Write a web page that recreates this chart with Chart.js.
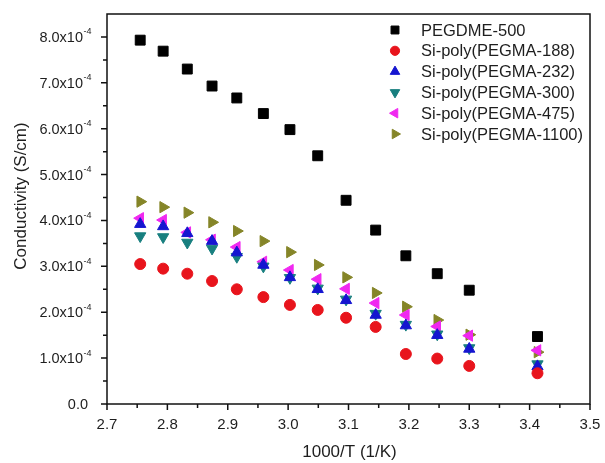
<!DOCTYPE html>
<html><head><meta charset="utf-8">
<script src="https://cdn.jsdelivr.net/npm/chart.js"></script>
<style>html,body{margin:0;padding:0;background:#fff}canvas{display:block}</style>
</head><body>
<canvas id="c" width="605" height="463"></canvas>
<script>
// 1000/T (1/K)
const invT = [2.755, 2.793, 2.833, 2.874, 2.915, 2.959, 3.003, 3.049, 3.096, 3.145, 3.195, 3.247, 3.300, 3.413];

const seriesNames = ['PEGDME-500', 'Si-poly(PEGMA-188)', 'Si-poly(PEGMA-232)', 'Si-poly(PEGMA-300)', 'Si-poly(PEGMA-475)', 'Si-poly(PEGMA-1100)'];

// Conductivity (S/cm)
const pegdme500 = [7.93e-4, 7.69e-4, 7.30e-4, 6.93e-4, 6.67e-4, 6.33e-4, 5.98e-4, 5.41e-4, 4.44e-4, 3.79e-4, 3.23e-4, 2.84e-4, 2.48e-4, 1.47e-4];
const pegma188  = [3.05e-4, 2.95e-4, 2.84e-4, 2.68e-4, 2.50e-4, 2.33e-4, 2.16e-4, 2.05e-4, 1.88e-4, 1.68e-4, 1.09e-4, 0.99e-4, 0.83e-4, 0.67e-4];
const pegma232  = [3.92e-4, 3.87e-4, 3.72e-4, 3.55e-4, 3.30e-4, 3.03e-4, 2.76e-4, 2.50e-4, 2.26e-4, 1.94e-4, 1.71e-4, 1.50e-4, 1.20e-4, 0.82e-4];
const pegma300  = [3.66e-4, 3.64e-4, 3.52e-4, 3.39e-4, 3.21e-4, 3.00e-4, 2.75e-4, 2.52e-4, 2.28e-4, 1.97e-4, 1.73e-4, 1.52e-4, 1.22e-4, 0.87e-4];
const pegma475  = [4.05e-4, 4.01e-4, 3.74e-4, 3.58e-4, 3.42e-4, 3.10e-4, 2.92e-4, 2.72e-4, 2.51e-4, 2.20e-4, 1.94e-4, 1.69e-4, 1.49e-4, 1.17e-4];
const pegma1100 = [4.41e-4, 4.29e-4, 4.17e-4, 3.96e-4, 3.77e-4, 3.55e-4, 3.31e-4, 3.03e-4, 2.76e-4, 2.42e-4, 2.12e-4, 1.83e-4, 1.51e-4, 1.13e-4];

// Tick labels
const xTickValues = [2.7, 2.8, 2.9, 3.0, 3.1, 3.2, 3.3, 3.4, 3.5];
const yTickValues = [0, 1e-4, 2e-4, 3e-4, 4e-4, 5e-4, 6e-4, 7e-4, 8e-4];
const yTickMantissa = ['0.0', '1.0x10', '2.0x10', '3.0x10', '4.0x10', '5.0x10', '6.0x10', '7.0x10', '8.0x10'];
const yTickExponent = ['', '-4', '-4', '-4', '-4', '-4', '-4', '-4', '-4'];

const allSeries = [pegdme500, pegma188, pegma232, pegma300, pegma475, pegma1100];
const styles = [
  {color: '#000000', pointStyle: 'rect', rotation: 0, radius: 7, lr: 5.6},
  {color: '#e8141c', pointStyle: 'circle', rotation: 0, radius: 5.5, lr: 4.6},
  {color: '#1515d0', pointStyle: 'triangle', rotation: 0, radius: 6.5, lr: 5.5},
  {color: '#187f7f', pointStyle: 'triangle', rotation: 180, radius: 6.5, lr: 5.5},
  {color: '#f028f0', pointStyle: 'triangle', rotation: 270, radius: 6.5, lr: 5.5},
  {color: '#858528', pointStyle: 'triangle', rotation: 90, radius: 6.5, lr: 5.5}
];

const datasets = allSeries.map((vals, i) => ({
  label: seriesNames[i],
  data: vals.map((v, j) => ({x: invT[j], y: v})),
  pointStyle: styles[i].pointStyle,
  rotation: styles[i].rotation,
  pointRadius: styles[i].radius,
  pointHoverRadius: styles[i].radius,
  backgroundColor: styles[i].color,
  borderColor: styles[i].color,
  borderWidth: 1,
  showLine: false
}));

const FONT = '"Liberation Sans", Arial, sans-serif';
const TXT = '#1e1e1e';

function drawMarker(ctx, st, x, y, r) {
  ctx.save();
  ctx.fillStyle = st.color; ctx.strokeStyle = st.color; ctx.lineWidth = 1;
  ctx.beginPath();
  if (st.pointStyle === 'rect') {
    const s = Math.SQRT1_2 * r;
    ctx.rect(x - s, y - s, 2 * s, 2 * s);
  } else if (st.pointStyle === 'circle') {
    ctx.arc(x, y, r, 0, Math.PI * 2);
  } else {
    let rad = st.rotation * Math.PI / 180;
    ctx.moveTo(x + Math.sin(rad) * r, y - Math.cos(rad) * r);
    rad += 2 * Math.PI / 3;
    ctx.lineTo(x + Math.sin(rad) * r, y - Math.cos(rad) * r);
    rad += 2 * Math.PI / 3;
    ctx.lineTo(x + Math.sin(rad) * r, y - Math.cos(rad) * r);
    ctx.closePath();
  }
  ctx.fill(); ctx.stroke();
  ctx.restore();
}

const decor = {
  id: 'decor',
  afterDraw(chart) {
    const ctx = chart.ctx;
    const xs = chart.scales.x, ys = chart.scales.y;
    const a = chart.chartArea;
    ctx.save();
    // frame
    ctx.strokeStyle = '#111'; ctx.lineWidth = 1.5;
    ctx.strokeRect(a.left, a.top, a.right - a.left, a.bottom - a.top);
    // x ticks (major + minor)
    ctx.lineWidth = 1.5;
    ctx.beginPath();
    xTickValues.forEach((v, i) => {
      const px = xs.getPixelForValue(v);
      ctx.moveTo(px, a.bottom); ctx.lineTo(px, a.bottom + 6);
      if (i < xTickValues.length - 1) {
        const pm = xs.getPixelForValue((v + xTickValues[i + 1]) / 2);
        ctx.moveTo(pm, a.bottom); ctx.lineTo(pm, a.bottom + 4);
      }
    });
    // y ticks (major + minor)
    yTickValues.forEach((v, i) => {
      const py = ys.getPixelForValue(v);
      ctx.moveTo(a.left, py); ctx.lineTo(a.left - 6, py);
      const next = i < yTickValues.length - 1 ? yTickValues[i + 1] : v + 1e-4;
      const mid = (v + next) / 2;
      if (mid <= ys.max) {
        const pm = ys.getPixelForValue(mid);
        ctx.moveTo(a.left, pm); ctx.lineTo(a.left - 4, pm);
      }
    });
    ctx.stroke();
    // y tick labels with superscript exponent
    ctx.fillStyle = TXT;
    ctx.textBaseline = 'middle';
    yTickValues.forEach((v, i) => {
      const py = ys.getPixelForValue(v);
      if (yTickExponent[i]) {
        ctx.font = '14.5px ' + FONT;
        ctx.textAlign = 'right';
        ctx.fillText(yTickMantissa[i], 83, py + 1);
        ctx.font = '9px ' + FONT;
        ctx.textAlign = 'left';
        ctx.fillText(yTickExponent[i], 83.5, py - 5);
      } else {
        ctx.font = '14.5px ' + FONT;
        ctx.textAlign = 'right';
        ctx.fillText(yTickMantissa[i], 88, py + 1);
      }
    });
    // axis titles
    ctx.font = '17px ' + FONT;
    ctx.textAlign = 'center';
    ctx.fillText('1000/T (1/K)', (a.left + a.right) / 2 + 1, 452);
    ctx.save();
    ctx.translate(21, 196);
    ctx.rotate(-Math.PI / 2);
    ctx.fillText('Conductivity (S/cm)', 0, 0);
    ctx.restore();
    // legend
    const ly0 = 30, ldy = 20.8;
    ctx.font = '16.5px ' + FONT;
    ctx.textAlign = 'left';
    seriesNames.forEach((n, i) => {
      const y = ly0 + i * ldy;
      drawMarker(ctx, styles[i], 395, y, styles[i].lr);
      ctx.fillStyle = TXT;
      ctx.fillText(n, 421, y + 1);
    });
    ctx.restore();
  }
};

new Chart(document.getElementById('c'), {
  type: 'scatter',
  data: {datasets},
  options: {
    responsive: false,
    animation: false,
    devicePixelRatio: 1,
    layout: {padding: {top: 14, right: 15, left: 0, bottom: 0}},
    plugins: {legend: {display: false}, tooltip: {enabled: false}},
    scales: {
      x: {
        type: 'linear', min: 2.7, max: 3.5,
        afterFit(s) { s.height = 59; s.paddingLeft = 0; s.paddingRight = 0; },
        grid: {display: false, drawTicks: false},
        border: {display: false},
        ticks: {
          stepSize: 0.1, padding: 12, autoSkip: false, maxRotation: 0,
          color: TXT, font: {family: FONT, size: 15},
          callback: v => Number(v).toFixed(1)
        }
      },
      y: {
        type: 'linear', min: 0, max: 8.5e-4,
        afterFit(s) { s.width = 107; s.paddingTop = 0; s.paddingBottom = 0; },
        grid: {display: false, drawTicks: false},
        border: {display: false},
        ticks: {display: false, stepSize: 1e-4}
      }
    }
  },
  plugins: [decor]
});
</script>
</body></html>
